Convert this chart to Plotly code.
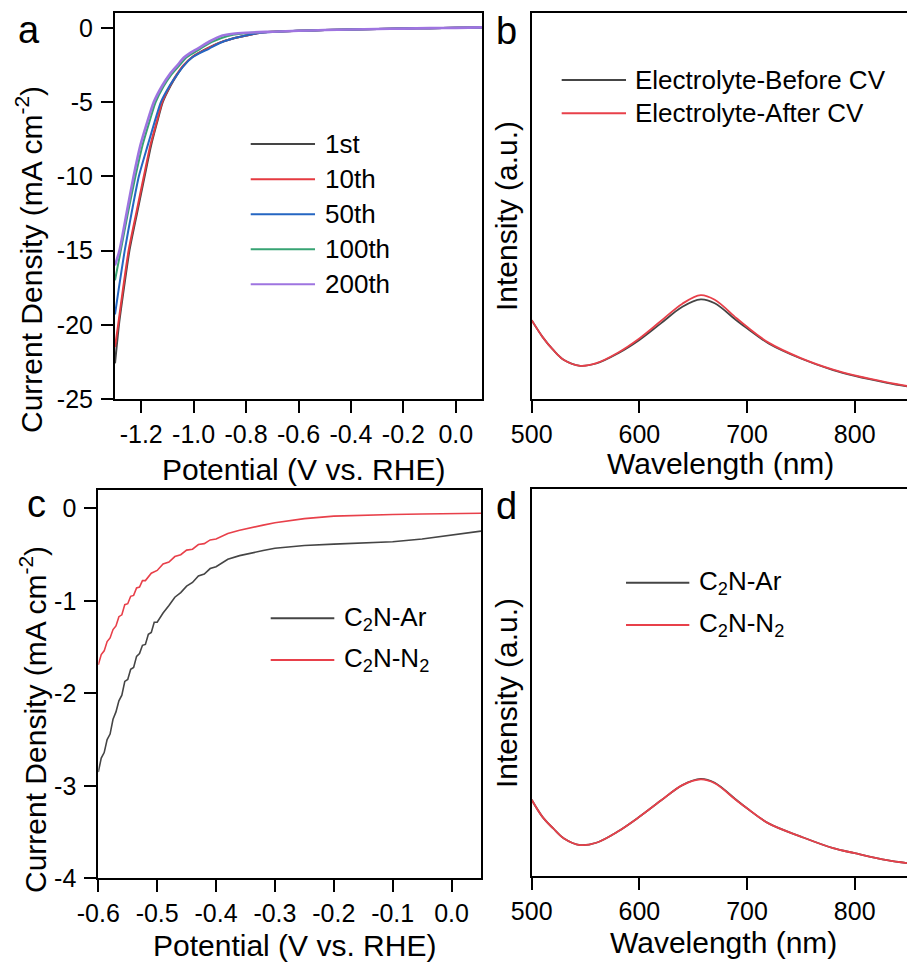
import plotly.graph_objects as go

# ---------------- data ----------------
# Panel a: LSV cycles (V vs RHE, mA cm-2)
a_names = ["1st", "10th", "50th", "100th", "200th"]
a_v_1st = [-1.30, -1.285, -1.265, -1.245, -1.215, -1.187, -1.162, -1.14, -1.118, -1.088, -1.063, -1.038,
           -1.00, -0.95, -0.90, -0.85, -0.80, -0.75, -0.70, -0.60, -0.50, -0.40, -0.30, -0.20, -0.10, 0.00, 0.10]
a_j_1st = [-22.6, -20.0, -17.4, -15.0, -12.4, -10.0, -7.9, -6.4, -5.0, -3.9, -3.15, -2.54,
           -1.9, -1.40, -1.00, -0.72, -0.52, -0.34, -0.27, -0.20, -0.15, -0.11, -0.08, -0.05, -0.02, 0.00, 0.03]
a_v_10th = [-1.30, -1.288, -1.268, -1.248, -1.218, -1.19, -1.165, -1.142, -1.12, -1.09, -1.065, -1.04,
            -1.00, -0.95, -0.90, -0.85, -0.80, -0.75, -0.70, -0.60, -0.50, -0.40, -0.30, -0.20, -0.10, 0.00, 0.10]
a_j_10th = [-21.5, -20.0, -17.4, -15.0, -12.4, -10.0, -7.9, -6.4, -5.0, -3.9, -3.15, -2.54,
            -1.9, -1.41, -1.00, -0.72, -0.52, -0.34, -0.27, -0.20, -0.15, -0.11, -0.08, -0.05, -0.02, 0.00, 0.03]
a_v_50th = [-1.30, -1.285, -1.263, -1.235, -1.209, -1.175, -1.15, -1.125, -1.095, -1.065, -1.037,
            -1.006, -0.975, -0.942, -0.90, -0.85, -0.80, -0.75, -0.70, -0.60, -0.50, -0.40, -0.30, -0.20, -0.10, 0.00, 0.10]
a_j_50th = [-19.3, -17.5, -15.0, -12.3, -10.0, -7.9, -6.4, -5.0, -4.0, -3.2, -2.54,
            -2.0, -1.68, -1.41, -1.02, -0.72, -0.52, -0.35, -0.28, -0.20, -0.15, -0.11, -0.08, -0.05, -0.02, 0.00, 0.03]
a_v_100th = [-1.30, -1.278, -1.25, -1.222, -1.195, -1.17, -1.145, -1.115, -1.085, -1.055,
             -1.028, -1.00, -0.975, -0.93, -0.87, -0.82, -0.75, -0.70, -0.60, -0.50, -0.40, -0.30, -0.20, -0.10, 0.00, 0.10]
a_j_100th = [-17.0, -15.0, -12.4, -10.0, -7.9, -6.4, -5.0, -3.95, -3.15, -2.54,
             -2.0, -1.68, -1.41, -0.95, -0.55, -0.40, -0.30, -0.26, -0.20, -0.15, -0.11, -0.08, -0.05, -0.02, 0.00, 0.03]
a_v_200th = [-1.30, -1.283, -1.255, -1.229, -1.203, -1.178, -1.152, -1.12, -1.09, -1.063,
             -1.037, -1.01, -0.986, -0.94, -0.89, -0.85, -0.80, -0.75, -0.70, -0.60, -0.50, -0.40, -0.30, -0.20, -0.10, 0.00, 0.10]
a_j_200th = [-16.0, -15.0, -12.4, -10.0, -7.9, -6.4, -5.0, -3.9, -3.1, -2.54,
             -2.0, -1.65, -1.41, -0.92, -0.52, -0.40, -0.33, -0.29, -0.26, -0.20, -0.15, -0.11, -0.08, -0.05, -0.02, 0.00, 0.03]
a_xticks = [-1.2, -1.0, -0.8, -0.6, -0.4, -0.2, 0.0]
a_xticktext = ["-1.2", "-1.0", "-0.8", "-0.6", "-0.4", "-0.2", "0.0"]
a_yticks = [0, -5, -10, -15, -20, -25]
a_yticktext = ["0", "-5", "-10", "-15", "-20", "-25"]

# Panel b: UV-vis spectra (nm, a.u.)
b_names = ["Electrolyte-Before CV", "Electrolyte-After CV"]
b_wl = [500, 510, 520, 530, 545, 560, 580, 600, 620, 640, 657, 670, 690, 700, 720, 750, 780, 800, 830, 850]
b_before = [0.204, 0.161, 0.127, 0.101, 0.086, 0.092, 0.118, 0.153, 0.196, 0.239, 0.258, 0.248,
            0.204, 0.183, 0.144, 0.105, 0.075, 0.060, 0.042, 0.032]
b_after = [0.204, 0.161, 0.127, 0.101, 0.086, 0.093, 0.120, 0.157, 0.202, 0.247, 0.269, 0.257,
           0.210, 0.187, 0.146, 0.106, 0.076, 0.061, 0.043, 0.033]
wl_ticks = [500, 600, 700, 800]
wl_ticktext = ["500", "600", "700", "800"]

# Panel c: LSV in Ar vs N2
c_names = ["C<sub>2</sub>N-Ar", "C<sub>2</sub>N-N<sub>2</sub>"]
c_v_ar = [-0.600, -0.595, -0.590, -0.585, -0.580, -0.575, -0.570, -0.565, -0.560, -0.555, -0.550, -0.545,
          -0.540, -0.535, -0.530, -0.525, -0.520, -0.515, -0.510, -0.505, -0.500, -0.49, -0.48, -0.47,
          -0.46, -0.45, -0.44, -0.43, -0.42, -0.41, -0.40, -0.38, -0.36, -0.34, -0.32, -0.30, -0.25,
          -0.20, -0.15, -0.10, -0.05, 0.00, 0.05]
c_j_ar = [-2.85, -2.70, -2.64, -2.50, -2.44, -2.28, -2.20, -2.08, -2.02, -1.87, -1.85, -1.74,
          -1.72, -1.60, -1.57, -1.48, -1.47, -1.36, -1.34, -1.23, -1.23, -1.13, -1.05, -0.96,
          -0.91, -0.84, -0.80, -0.73, -0.71, -0.65, -0.63, -0.55, -0.51, -0.48, -0.455, -0.43, -0.40,
          -0.385, -0.375, -0.36, -0.33, -0.285, -0.245]
c_v_n2 = [-0.600, -0.595, -0.590, -0.585, -0.580, -0.575, -0.570, -0.565, -0.560, -0.555, -0.550, -0.545,
          -0.540, -0.535, -0.530, -0.525, -0.520, -0.51, -0.50, -0.49, -0.48, -0.47, -0.46, -0.45,
          -0.44, -0.43, -0.42, -0.41, -0.40, -0.38, -0.36, -0.34, -0.32, -0.30, -0.25, -0.20, -0.15,
          -0.10, -0.05, 0.00, 0.05]
c_j_n2 = [-1.69, -1.58, -1.54, -1.44, -1.40, -1.31, -1.27, -1.17, -1.15, -1.04, -1.03, -0.95,
          -0.94, -0.86, -0.85, -0.78, -0.78, -0.70, -0.67, -0.60, -0.58, -0.52, -0.50, -0.45,
          -0.44, -0.39, -0.38, -0.34, -0.33, -0.27, -0.235, -0.205, -0.18, -0.155, -0.11, -0.083, -0.072,
          -0.065, -0.060, -0.055, -0.052]
c_xticks = [-0.6, -0.5, -0.4, -0.3, -0.2, -0.1, 0.0]
c_xticktext = ["-0.6", "-0.5", "-0.4", "-0.3", "-0.2", "-0.1", "0.0"]
c_yticks = [0, -1, -2, -3, -4]
c_yticktext = ["0", "-1", "-2", "-3", "-4"]

# Panel d: UV-vis spectra
d_names = ["C<sub>2</sub>N-Ar", "C<sub>2</sub>N-N<sub>2</sub>"]
d_wl = [500, 510, 520, 530, 545, 560, 580, 600, 620, 640, 657, 670, 690, 700, 720, 750, 780, 800, 830, 850]
d_ar = [0.197, 0.153, 0.123, 0.097, 0.080, 0.086, 0.115, 0.153, 0.195, 0.235, 0.251, 0.241,
        0.197, 0.175, 0.136, 0.102, 0.072, 0.059, 0.041, 0.033]
d_n2 = [0.197, 0.153, 0.123, 0.097, 0.080, 0.086, 0.115, 0.153, 0.195, 0.235, 0.250, 0.240,
        0.196, 0.175, 0.136, 0.102, 0.072, 0.059, 0.041, 0.033]

# ---------------- style ----------------
W, H = 907, 962
FONT = "Liberation Sans, Arial, sans-serif"
TICK = 25
TITLE = 30
LEG = 26
LABEL = 38
col_a = ["#454545", "#e53a40", "#2566c2", "#37a373", "#9e74e0"]
col_bd = ["#454545", "#e8404a"]


def px(x):
    return x / W


def py(y):
    return 1 - y / H


fig = go.Figure()

a_series = [(a_v_1st, a_j_1st), (a_v_10th, a_j_10th), (a_v_50th, a_j_50th),
            (a_v_100th, a_j_100th), (a_v_200th, a_j_200th)]
for (v, j), name, c in zip(a_series, a_names, col_a):
    fig.add_trace(go.Scatter(x=v, y=j, mode="lines", name=name, xaxis="x", yaxis="y",
                             line=dict(color=c, width=2.6 if name == "200th" else 2, shape="spline", smoothing=0.6),
                             showlegend=False))
for yv, name, c in zip([b_before, b_after], b_names, col_bd):
    fig.add_trace(go.Scatter(x=b_wl, y=yv, mode="lines", name=name, xaxis="x2", yaxis="y2",
                             line=dict(color=c, width=1.8, shape="spline"), showlegend=False))
for (v, j), name, c in zip([(c_v_ar, c_j_ar), (c_v_n2, c_j_n2)], c_names, col_bd):
    fig.add_trace(go.Scatter(x=v, y=j, mode="lines", name=name, xaxis="x3", yaxis="y3",
                             line=dict(color=c, width=1.6), showlegend=False))
for yv, name, c in zip([d_ar, d_n2], d_names, col_bd):
    fig.add_trace(go.Scatter(x=d_wl, y=yv, mode="lines", name=name, xaxis="x4", yaxis="y4",
                             line=dict(color=c, width=1.8, shape="spline"), showlegend=False))

axis_common = dict(showline=True, linecolor="black", linewidth=2, mirror=True,
                   ticks="outside", ticklen=12, tickwidth=2, tickcolor="black",
                   tickfont=dict(family=FONT, size=TICK, color="black"),
                   showgrid=False, zeroline=False, automargin=False)

# pixel boxes: (left, right, top, bottom)
box_a = (115, 482, 13, 399)
box_b = (531.7, 907, 13, 399)
box_c = (98.3, 481, 490, 878.3)
box_d = (531.7, 907, 489.3, 876)


def dom(box):
    l, r, t, b = box
    return [px(l), px(r)], [py(b), py(t)]


xa, ya = dom(box_a)
xb, yb = dom(box_b)
xc, yc = dom(box_c)
xd, yd = dom(box_d)

fig.update_layout(
    template="none",
    width=W, height=H, margin=dict(l=0, r=0, t=0, b=0, autoexpand=False),
    paper_bgcolor="white", plot_bgcolor="white", showlegend=False,
    font=dict(family=FONT, color="black"),
    xaxis=dict(axis_common, domain=xa, range=[-1.3, 0.1], tickvals=a_xticks, ticktext=a_xticktext, anchor="y"),
    yaxis=dict(axis_common, domain=ya, range=[-25, 1], tickvals=a_yticks, ticktext=a_yticktext, anchor="x",
               ticklabelstandoff=3),
    xaxis2=dict(axis_common, domain=xb, range=[500, 848.6], tickvals=wl_ticks, ticktext=wl_ticktext, anchor="y2"),
    yaxis2=dict(axis_common, domain=yb, range=[0, 1], ticks="", showticklabels=False, anchor="x2"),
    xaxis3=dict(axis_common, domain=xc, range=[-0.6, 0.05], tickvals=c_xticks, ticktext=c_xticktext, anchor="y3"),
    yaxis3=dict(axis_common, domain=yc, range=[-4, 0.2], tickvals=c_yticks, ticktext=c_yticktext, anchor="x3",
                ticklabelstandoff=3),
    xaxis4=dict(axis_common, domain=xd, range=[500, 848.6], tickvals=wl_ticks, ticktext=wl_ticktext, anchor="y4"),
    yaxis4=dict(axis_common, domain=yd, range=[0, 1], ticks="", showticklabels=False, anchor="x4"),
)

ann = []
# axis titles
ytitle = "Current Density (mA cm<sup>-2</sup>)"
xtitle = "Potential (V vs. RHE)"
ititle = "Intensity (a.u.)"
wtitle = "Wavelength (nm)"
for text, x, y, ang in [(ytitle, 29, 260, -90), (ititle, 506, 216, -90), (ytitle, 33, 720, -90), (ititle, 506, 693, -90),
                        (xtitle, 303.5, 469, 0), (wtitle, 720, 463, 0), (xtitle, 294, 945, 0), (wtitle, 723, 942, 0)]:
    ann.append(dict(text=text, x=px(x), y=py(y), xref="paper", yref="paper", showarrow=False,
                    xanchor="center", yanchor="middle", textangle=ang,
                    font=dict(family=FONT, size=TITLE, color="black")))
# panel labels
for text, x, y in [("a", 29, 30), ("b", 506, 31), ("c", 36, 504), ("d", 506, 506)]:
    ann.append(dict(text=text, x=px(x), y=py(y), xref="paper", yref="paper", showarrow=False,
                    xanchor="center", yanchor="middle", font=dict(family=FONT, size=LABEL, color="black")))

shapes = []


def legend(sfx, names, colors, x0, x1, xt, ys):
    # manual legend drawn in the subplot's domain units
    for n, c, y in zip(names, colors, ys):
        shapes.append(dict(type="line", xref=f"x{sfx} domain", yref=f"y{sfx} domain",
                           x0=x0, x1=x1, y0=y, y1=y, line=dict(color=c, width=2)))
        ann.append(dict(text=n, x=xt, y=y, xref=f"x{sfx} domain", yref=f"y{sfx} domain", showarrow=False,
                        xanchor="left", yanchor="middle", font=dict(family=FONT, size=LEG, color="black")))


legend("", a_names, col_a, 0.3698, 0.545, 0.566, [0.6606, 0.5692, 0.4785, 0.3878, 0.2972])
legend("2", b_names, col_bd, 0.0799, 0.2513, 0.2707, [0.8264, 0.7402])
legend("3", c_names, col_bd, 0.4505, 0.6167, 0.636, [0.6696, 0.5622])
legend("4", d_names, col_bd, 0.2513, 0.42, 0.4413, [0.7585, 0.6491])

fig.update_layout(annotations=ann, shapes=shapes)
fig.write_html("out.html")
